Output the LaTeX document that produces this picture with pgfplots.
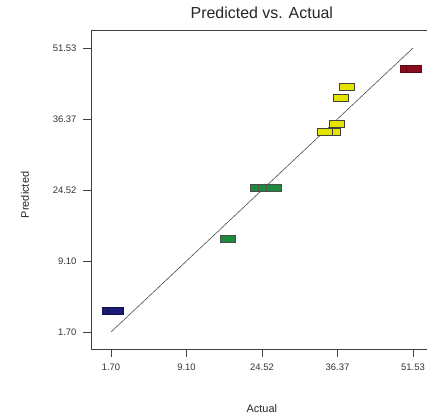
\documentclass[border=0pt]{standalone}
\usepackage{pgfplots}
\pgfplotsset{compat=1.18}
\usepackage{fontspec}
\setmainfont{Liberation Sans}
\definecolor{dblue}{HTML}{1A1A7A}
\definecolor{dgreen}{HTML}{1E8A3C}
\definecolor{dyellow}{HTML}{E4E400}
\definecolor{dred}{HTML}{8A0A1E}
\begin{document}
\begin{tikzpicture}
\path[use as bounding box] (-91bp,-68bp) rectangle (336bp,349bp);
\begin{axis}[
  at={(0,0)}, anchor=south west,
  scale only axis, width=337bp, height=319bp,
  xmin=-1.60, xmax=54.01, ymin=-1.28, ymax=54.69,
  axis line style={draw=black!75, line width=0.8pt},
  tick align=outside, major tick length=8bp,
  tick style={black!75, line width=0.8pt},
  xtick={1.70,14.1575,26.615,39.0725,51.53},
  xticklabels={1.70,9.10,24.52,36.37,51.53},
  ytick={1.70,14.1575,26.615,39.0725,51.53},
  yticklabels={1.70,9.10,24.52,36.37,51.53},
  xtick pos=bottom, ytick pos=left,
  tick label style={font=\fontsize{9.5}{10}\selectfont, black!80},
  xticklabel style={yshift=-3bp},
  yticklabel style={xshift=-3bp},
  title={Predicted vs. Actual},
  title style={font=\fontsize{16}{18}\selectfont, black!85, at={(axis description cs:0.507,1.034)}, anchor=center},
  xlabel={Actual}, ylabel={Predicted},
  label style={font=\fontsize{11}{12}\selectfont, black!85},
  xlabel style={at={(axis description cs:0.507,-0.188)}, anchor=center},
  ylabel style={at={(axis description cs:-0.196,0.483)}, anchor=center, rotate=0},
  clip=false,
]
\addplot[black!70, line width=0.6pt] coordinates {(1.70,1.70) (51.53,51.53)};
% blue
\addplot[only marks, mark=square*, mark size=3.5bp, mark options={xscale=2.1, fill=dblue, draw=dblue!60!black, line width=0.4pt}]
  coordinates {(1.54,5.39) (2.52,5.39)};
% green
\addplot[only marks, mark=square*, mark size=3.5bp, mark options={xscale=2.1, fill=dgreen, draw=black!70, line width=0.4pt}]
  coordinates {(20.99,18.02) (25.95,26.98) (27.28,26.98) (28.59,26.98)};
% yellow
\addplot[only marks, mark=square*, mark size=3.5bp, mark options={xscale=2.1, fill=dyellow, draw=black!75, line width=0.5pt}]
  coordinates {(40.64,44.69) (39.65,42.76) (38.99,38.20) (38.33,36.79) (37.01,36.79)};
% red
\addplot[only marks, mark=square*, mark size=3.5bp, mark options={xscale=2.1, fill=dred, draw=dred!70!black, line width=0.4pt}]
  coordinates {(50.71,47.84) (51.70,47.84)};
\end{axis}
\end{tikzpicture}
\end{document}
